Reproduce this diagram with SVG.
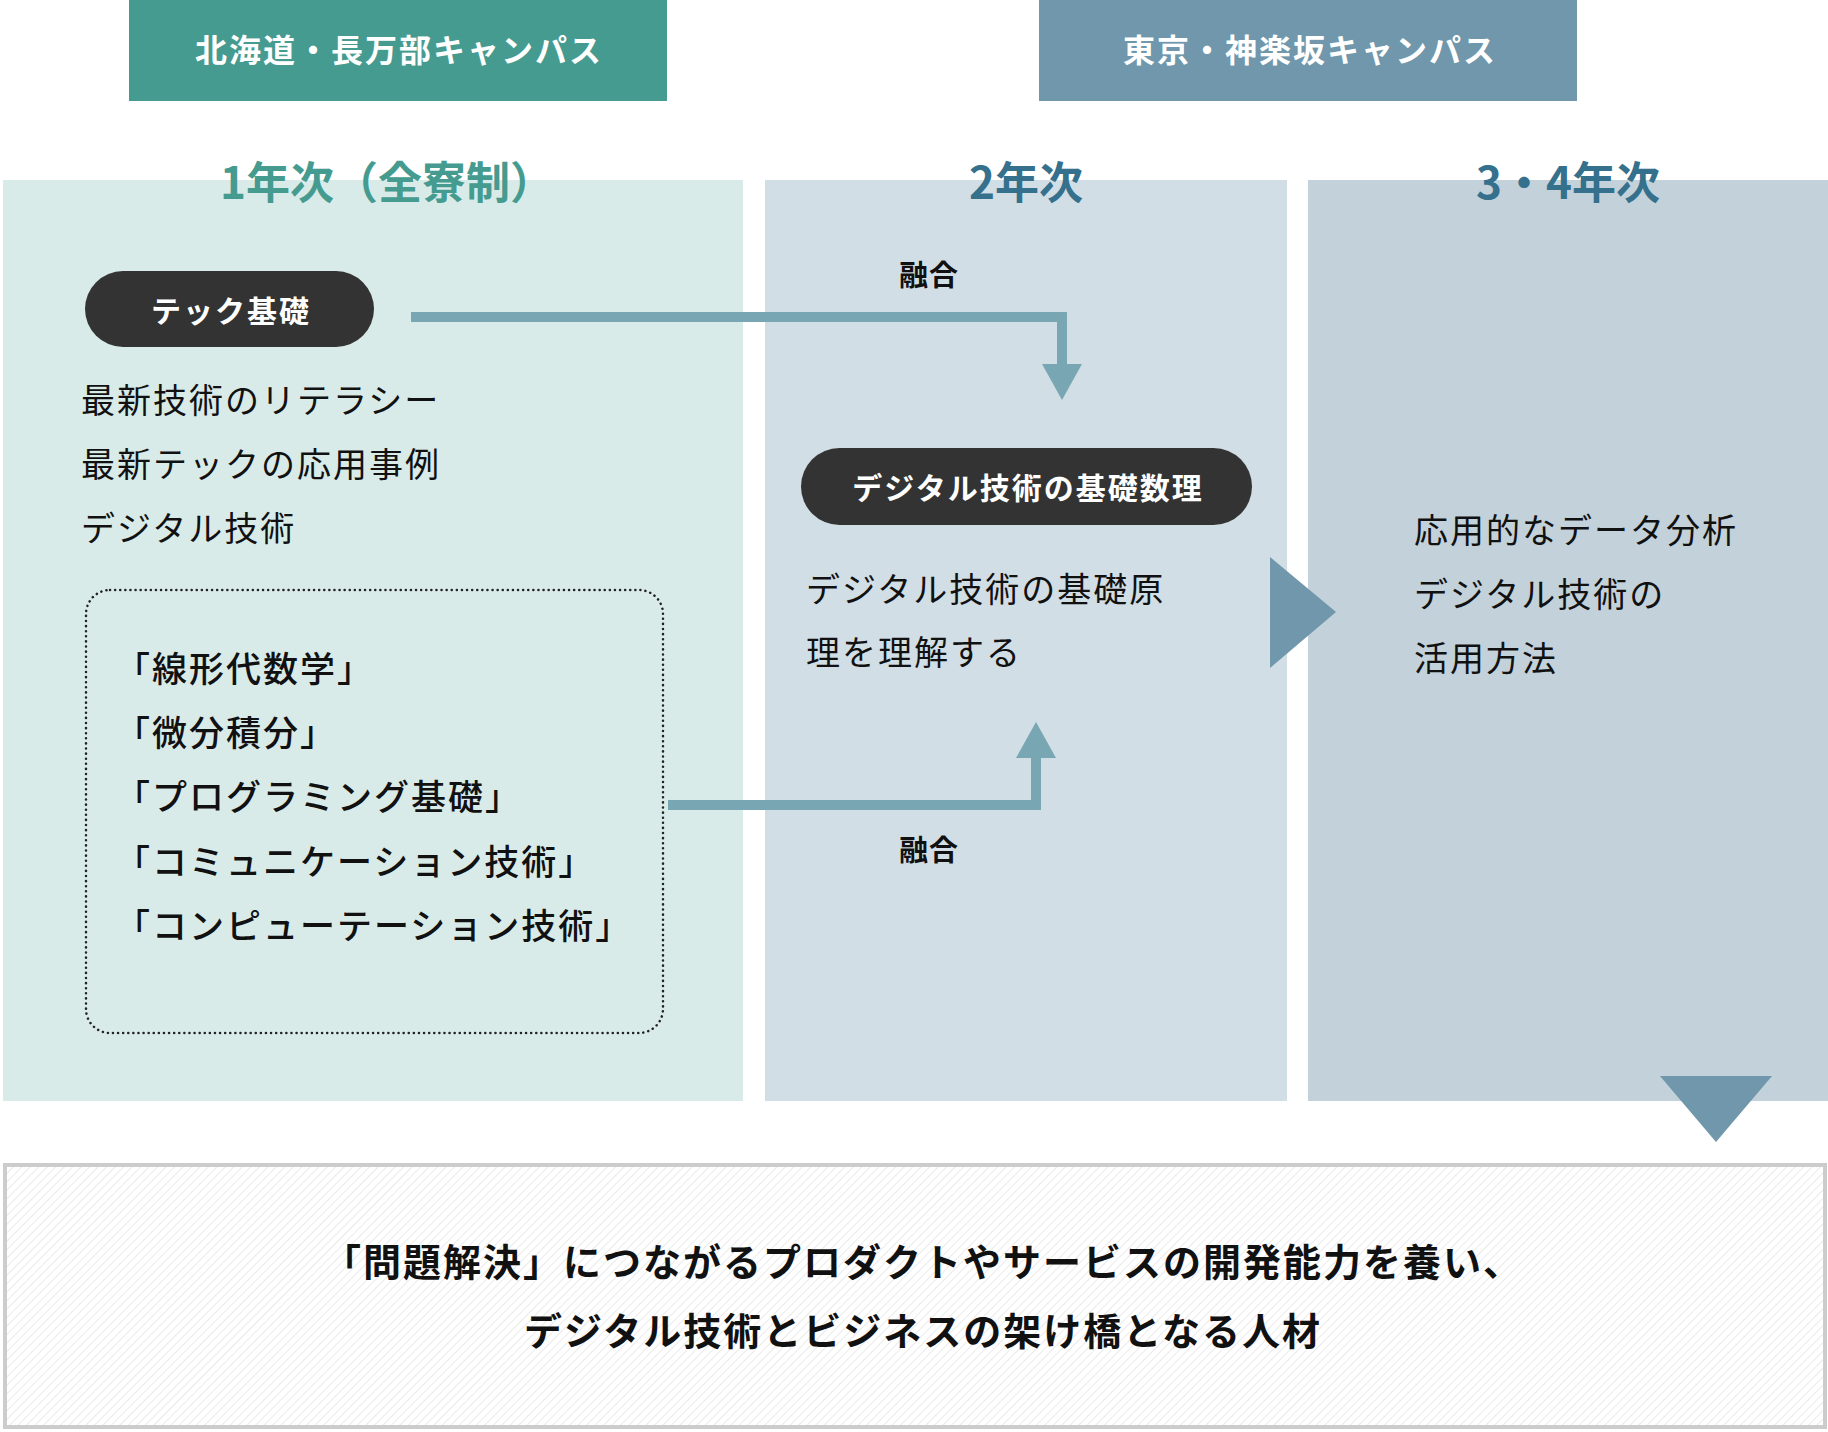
<svg xmlns="http://www.w3.org/2000/svg" width="1828" height="1432" viewBox="0 0 1828 1432">
  <defs>
    <style>
      text { font-family: "Noto Sans CJK JP", "Noto Sans", sans-serif; }
      .hdr { fill: #ffffff; font-size: 32px; font-weight: 700; letter-spacing: 2px; text-anchor: middle; }
      .yr1 { fill: #469b90; font-size: 44px; font-weight: 700; text-anchor: middle; }
      .yr { fill: #35708d; font-size: 44px; font-weight: 700; text-anchor: middle; }
      .pilltxt { fill: #ffffff; font-size: 30px; font-weight: 700; letter-spacing: 2px; text-anchor: middle; }
      .body { fill: #111111; font-size: 34px; font-weight: 400; letter-spacing: 2px; }
      .subj { fill: #111111; font-size: 35px; font-weight: 500; letter-spacing: 2px; }
      .lbl { fill: #111111; font-size: 29px; font-weight: 700; letter-spacing: 1px; text-anchor: middle; }
      .goal { fill: #111111; font-size: 38px; font-weight: 700; letter-spacing: 2px; text-anchor: middle; }
      .pill { fill: #333333; }
      .conn { fill: none; stroke: #79a6b3; stroke-width: 10; }
      .connhead { fill: #79a6b3; }
      .bigarrow { fill: #7097ab; }
    </style>
    <pattern id="hatch" width="6" height="6" patternUnits="userSpaceOnUse" patternTransform="rotate(45)">
      <rect width="6" height="6" fill="#ffffff"/>
      <line x1="0" y1="0" x2="0" y2="6" stroke="#e3e3e3" stroke-width="1.5"/>
    </pattern>
  </defs>

  <rect width="1828" height="1432" fill="#ffffff"/>

  <g id="header-hokkaido">
    <rect x="129" y="0" width="538" height="101" fill="#469b90"/>
    <text class="hdr" x="399" y="62">北海道・長万部キャンパス</text>
  </g>
  <g id="header-tokyo">
    <rect x="1039" y="0" width="538" height="101" fill="#7097ab"/>
    <text class="hdr" x="1310" y="62">東京・神楽坂キャンパス</text>
  </g>

  <g id="col-year1">
    <rect x="3" y="180" width="740" height="921" fill="#d9ebe9"/>
    <text class="yr1" x="387" y="199">1年次（全寮制）</text>
  </g>
  <g id="col-year2">
    <rect x="765" y="180" width="522" height="921" fill="#d1dee5"/>
    <text class="yr" x="1026" y="199">2年次</text>
  </g>
  <g id="col-year34">
    <rect x="1308" y="180" width="520" height="921" fill="#c3d2da"/>
    <text class="yr" x="1568" y="199">3・4年次</text>
  </g>

  <g id="node-tech">
    <rect class="pill" x="85" y="271" width="289" height="76" rx="38"/>
    <text class="pilltxt" x="231" y="322">テック基礎</text>
  </g>
  <g id="text-tech">
    <text class="body" x="81" y="413">最新技術のリテラシー</text>
    <text class="body" x="81" y="477">最新テックの応用事例</text>
    <text class="body" x="81" y="541">デジタル技術</text>
  </g>

  <g id="node-subjects">
    <rect x="86" y="590" width="577" height="443" rx="24" fill="none" stroke="#222222" stroke-width="2.5" stroke-dasharray="0.1 5" stroke-linecap="round"/>
    <text class="subj" x="115" y="682">「線形代数学」</text>
    <text class="subj" x="115" y="746">「微分積分」</text>
    <text class="subj" x="115" y="810">「プログラミング基礎」</text>
    <text class="subj" x="115" y="875">「コミュニケーション技術」</text>
    <text class="subj" x="115" y="939">「コンピューテーション技術」</text>
  </g>

  <g id="node-math">
    <rect class="pill" x="801" y="448" width="451" height="77" rx="38.5"/>
    <text class="pilltxt" x="1028" y="499">デジタル技術の基礎数理</text>
  </g>
  <g id="text-math">
    <text class="body" x="806" y="602">デジタル技術の基礎原</text>
    <text class="body" x="806" y="665">理を理解する</text>
  </g>

  <g id="text-year34">
    <text class="body" x="1414" y="543">応用的なデータ分析</text>
    <text class="body" x="1414" y="607">デジタル技術の</text>
    <text class="body" x="1414" y="671">活用方法</text>
  </g>

  <g id="connectors">
    <path class="conn" d="M411,317 H1062 V366"/>
    <polygon class="connhead" points="1042,364 1082,364 1062,400"/>
    <text class="lbl" x="929" y="286">融合</text>
    <path class="conn" d="M668,805 H1036 V756"/>
    <polygon class="connhead" points="1016,758 1056,758 1036,722"/>
    <text class="lbl" x="929" y="861">融合</text>
    <polygon class="bigarrow" points="1270,557 1336,612 1270,668"/>
    <polygon class="bigarrow" points="1660,1076 1772,1076 1716,1142"/>
  </g>

  <g id="node-goal">
    <rect x="5" y="1165" width="1820" height="262" fill="url(#hatch)" stroke="#cccccc" stroke-width="4"/>
    <text class="goal" x="923" y="1276">「問題解決」につながるプロダクトやサービスの開発能力を養い、</text>
    <text class="goal" x="923" y="1345">デジタル技術とビジネスの架け橋となる人材</text>
  </g>
</svg>
